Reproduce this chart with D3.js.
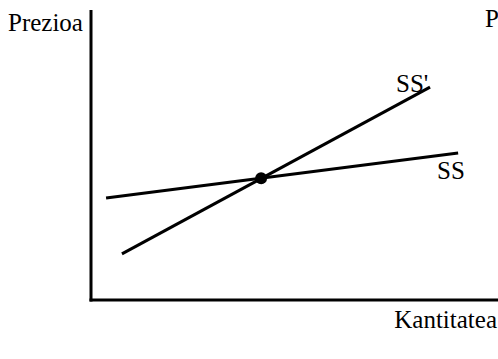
<!DOCTYPE html>
<html><head><meta charset="utf-8">
<script src="https://cdn.jsdelivr.net/npm/d3@7"></script>
<style>body{margin:0;background:#fff}</style>
</head><body>
<svg id="c" width="498" height="359" style='font-family:"Liberation Serif","Times New Roman",Tinos,serif'></svg>
<script>
const seriesNames = ["SS", "SS'"];
const ssPoints = [[3.7, 35.2], [90.2, 50.7]];
const ssPrimePoints = [[7.6, 15.9], [83.3, 73.4]];
const equilibrium = [[41.8, 42.0]];
const axisLabels = ["Prezioa", "Kantitatea", "P"];

const svg = d3.select("#c");
const x = d3.scaleLinear().domain([0, 100]).range([91, 498]);
const y = d3.scaleLinear().domain([0, 100]).range([300, 10]);

// axes
svg.append("line").attr("x1", x(0)).attr("x2", x(0)).attr("y1", y(100)).attr("y2", y(0) + 1.5)
  .attr("stroke", "#000").attr("stroke-width", 3);
svg.append("line").attr("x1", x(0) - 1.5).attr("x2", x(100)).attr("y1", y(0)).attr("y2", y(0))
  .attr("stroke", "#000").attr("stroke-width", 3);

const line = d3.line().x(d => x(d[0])).y(d => y(d[1]));
[ssPoints, ssPrimePoints].forEach(pts => {
  svg.append("path").attr("d", line(pts)).attr("fill", "none")
    .attr("stroke", "#000").attr("stroke-width", 3);
});
svg.selectAll("circle.eq").data(equilibrium).join("circle")
  .attr("cx", d => x(d[0])).attr("cy", d => y(d[1])).attr("r", 6).attr("fill", "#000");

const txt = (t, px, py, anchor) => svg.append("text").attr("x", px).attr("y", py)
  .attr("text-anchor", anchor || "start")
  .style("font-family", '"Liberation Serif","Times New Roman",Tinos,serif')
  .style("font-size", "25px").attr("fill", "#000").text(t);

txt(axisLabels[0], 8, 31);
txt(axisLabels[2], 485, 27);
txt(axisLabels[1], 497, 328, "end");
txt(seriesNames[0], 437, 179);
txt(seriesNames[1], 396, 92);
</script>
</body></html>
